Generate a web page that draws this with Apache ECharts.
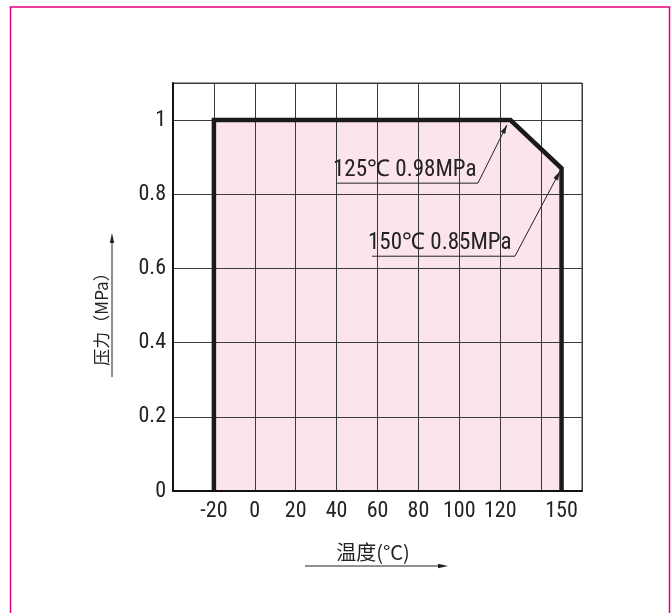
<!DOCTYPE html>
<html>
<head>
<meta charset="utf-8">
<script src="https://cdn.jsdelivr.net/npm/echarts@6/dist/echarts.min.js"></script>
<style>
html,body{margin:0;padding:0;background:#fff;}
#chart{width:671px;height:613px;}
</style>
</head>
<body>
<div id="chart"></div>
<script>
// ---- data ----
const xAxisRange = [-40, 160];
const xGridStep = 20;
const xTickLabels = [-20, 0, 20, 40, 60, 80, 100, 120, 150];
const yAxisRange = [0, 1.1];
const yGridStep = 0.2;
const yTickLabels = [0, 0.2, 0.4, 0.6, 0.8, 1];
const envelopeTemp = [-20, -20, 125, 150, 150];
const envelopePressure = [0, 1, 1, 0.87, 0];
const annotationTexts = ['125\u2103 0.98MPa', '150\u2103 0.85MPa'];
const xName = '温度(°C)';
const yName = '压力（MPa）';

// ---- annotation layout (data coordinates) ----
const annotationLayout = [
  { start: [40.2, 0.83], bend: [109.1, 0.83], tip: [123.3, 0.987] },
  { start: [57.3, 0.633], bend: [127.2, 0.633], tip: [149.2, 0.862] }
];

const envelope = envelopeTemp.map((t, i) => [t, envelopePressure[i]]);
const narrow = '"Roboto Condensed","Liberation Sans",sans-serif';
const cjk = '"Noto Sans CJK SC","Roboto Condensed",sans-serif';

const chart = echarts.init(document.getElementById('chart'), null, { renderer: 'canvas' });

const option = {
  animation: false,
  backgroundColor: '#fff',
  grid: { left: 173, right: 89, top: 83, bottom: 122, show: true, borderColor: '#3a3a3a', borderWidth: 1, backgroundColor: 'transparent' },
  xAxis: {
    type: 'value', min: xAxisRange[0], max: xAxisRange[1], interval: xGridStep, z: 1,
    axisLine: { show: true, onZero: false, lineStyle: { color: '#111', width: 2 } },
    axisTick: { show: false },
    splitLine: { show: true, lineStyle: { color: '#3a3a3a', width: 1 } },
    axisLabel: { customValues: xTickLabels, fontFamily: narrow, fontSize: 22, color: '#222', margin: 9 }
  },
  yAxis: {
    type: 'value', min: yAxisRange[0], max: yAxisRange[1], interval: yGridStep, z: 1,
    axisLine: { show: true, onZero: false, lineStyle: { color: '#111', width: 2 } },
    axisTick: { show: false },
    splitLine: { show: true, lineStyle: { color: '#3a3a3a', width: 1 } },
    axisLabel: { customValues: yTickLabels, fontFamily: narrow, fontSize: 22, color: '#222', margin: 7 }
  },
  series: [
    {
      type: 'line', data: envelope, symbol: 'none', z: 0,
      lineStyle: { width: 0, opacity: 0 },
      areaStyle: { color: '#fce4ee', opacity: 1 }
    },
    {
      type: 'line', data: envelope, symbol: 'none', z: 3,
      lineStyle: { width: 4.5, color: '#1a1a1a', join: 'miter', cap: 'butt' }
    }
  ]
};
chart.setOption(option);

function px(p) { return chart.convertToPixel({ gridIndex: 0 }, p); }
function arrowHead(tip, from, len, half, color) {
  const dx = tip[0] - from[0], dy = tip[1] - from[1];
  const d = Math.hypot(dx, dy);
  const ux = dx / d, uy = dy / d;
  const bx = tip[0] - ux * len, by = tip[1] - uy * len;
  return {
    type: 'polygon', z: 10,
    shape: { points: [tip, [bx - uy * half, by + ux * half], [bx + uy * half, by - ux * half]] },
    style: { fill: color }
  };
}

const graphics = [];
// outer frame
graphics.push({ type: 'rect', z: 20, shape: { x: 10.5, y: 7, width: 659, height: 620 }, style: { fill: 'none', stroke: '#e4007f', lineWidth: 1.5 } });

annotationLayout.forEach((a, i) => {
  const s = px(a.start), b = px(a.bend), t = px(a.tip);
  graphics.push({ type: 'polyline', z: 10, shape: { points: [s, b, t] }, style: { stroke: '#222', lineWidth: 1, fill: 'none' } });
  graphics.push(arrowHead(t, b, 9, 2.5, '#222'));
  graphics.push({ type: 'text', z: 10, x: s[0] - 4, y: s[1] - 1,
    style: { text: annotationTexts[i], font: '23px ' + narrow, fill: '#222', textAlign: 'left', textVerticalAlign: 'bottom' } });
});

// x axis name with arrow
graphics.push({ type: 'text', z: 10, x: 373, y: 552,
  style: { text: xName, font: '20px ' + cjk, fill: '#222', textAlign: 'center', textVerticalAlign: 'middle' } });
graphics.push({ type: 'line', z: 10, shape: { x1: 305, y1: 566, x2: 440, y2: 566 }, style: { stroke: '#222', lineWidth: 1 } });
graphics.push(arrowHead([448, 566], [305, 566], 10, 2.2, '#222'));

// y axis name with arrow
graphics.push({ type: 'text', z: 10, x: 102, y: 315, rotation: Math.PI / 2,
  style: { text: yName, font: '17px ' + cjk, fill: '#222', textAlign: 'center', textVerticalAlign: 'middle' } });
graphics.push({ type: 'line', z: 10, shape: { x1: 112, y1: 377, x2: 112, y2: 242 }, style: { stroke: '#222', lineWidth: 1 } });
graphics.push(arrowHead([112, 233], [112, 377], 10, 2.2, '#222'));

chart.setOption({ graphic: graphics });
</script>
</body>
</html>
